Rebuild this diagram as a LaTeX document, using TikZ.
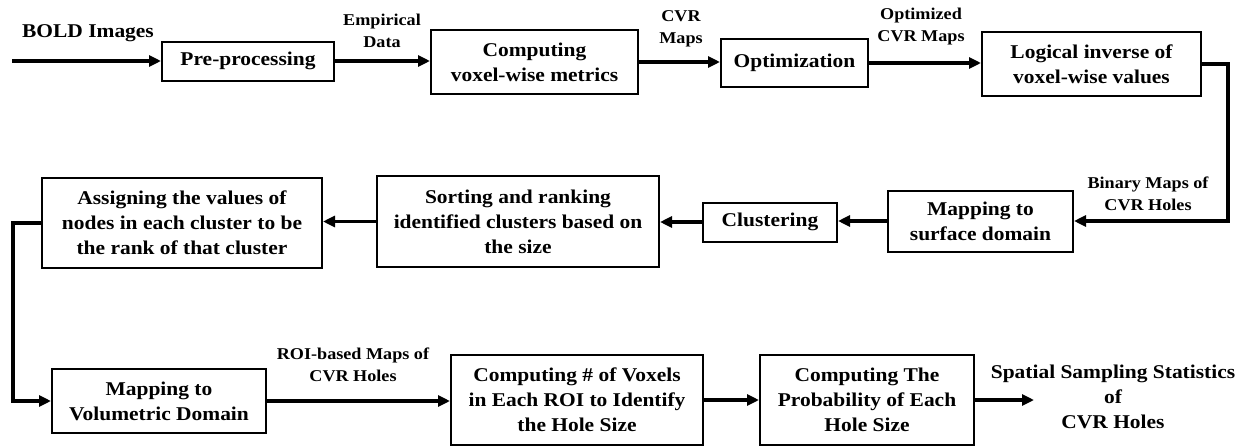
\documentclass[tikz,border=0pt]{standalone}
\usepackage{fontspec}
\setmainfont{Liberation Serif}[FakeStretch=1.1]
\usetikzlibrary{arrows.meta,positioning}
\begin{document}
\begin{tikzpicture}[x=1pt,y=-1pt,
  box/.style={draw,line width=2pt,align=center,inner sep=0pt,font=\fontsize{19.5}{25}\selectfont\bfseries},
  lbl/.style={align=center,inner sep=0pt,font=\fontsize{16.5}{22}\selectfont\bfseries},
  big/.style={align=center,inner sep=0pt,font=\fontsize{19.5}{25}\selectfont\bfseries},
  flow/.style={line width=3.2pt,-{Triangle[length=12pt,width=11pt]}},
  link/.style={line width=3.2pt}]
\useasboundingbox (0,0) rectangle (1247,447);
\node[box,minimum width=172pt,minimum height=39pt] (pre) at (248,61) {Pre-processing};
\node[box,minimum width=207pt,minimum height=64pt] (comp) at (534.5,62) {Computing\\voxel-wise metrics};
\node[box,minimum width=147pt,minimum height=48pt] (opt) at (794.5,63) {Optimization};
\node[box,minimum width=219pt,minimum height=64pt] (logic) at (1091.5,64) {Logical inverse of\\voxel-wise values};
\node[box,minimum width=185pt,minimum height=61pt] (maps) at (980.5,221) {Mapping to\\surface domain};
\node[box,minimum width=134pt,minimum height=39pt] (clust) at (770,222) {Clustering};
\node[box,minimum width=282pt,minimum height=91pt] (sort) at (518,221.5) {Sorting and ranking\\identified clusters based on\\the size};
\node[box,minimum width=280pt,minimum height=90pt] (assign) at (182,223) {Assigning the values of\\nodes in each cluster to be\\the rank of that cluster};
\node[box,minimum width=214pt,minimum height=64pt] (mapv) at (159,401) {Mapping to\\Volumetric Domain};
\node[box,minimum width=252pt,minimum height=90pt] (compn) at (577,400) {Computing \# of Voxels\\in Each ROI to Identify\\the Hole Size};
\node[box,minimum width=214pt,minimum height=90pt] (prob) at (867,400) {Computing The\\Probability of Each\\Hole Size};
\node[big] (out) at (1113,397) {Spatial Sampling Statistics\\of\\CVR Holes};
\node[big] (bold) at (88,33) {BOLD Images};
\node[lbl] (l1) at (382,31) {Empirical\\Data};
\node[lbl] (l2) at (681,29) {CVR\\Maps};
\node[lbl] (l3) at (921,27) {Optimized\\CVR Maps};
\node[lbl] (l4) at (1148,194) {Binary Maps of\\CVR Holes};
\node[lbl] (l5) at (353,365) {ROI-based Maps of\\CVR Holes};
\coordinate (in) at (12,61);
\coordinate (outp) at (1034,400);
\draw[flow] (in) -- (pre.west);
\draw[flow] (pre.east) -- (pre.east -| comp.west);
\draw[flow] (comp.east) -- (comp.east -| opt.west);
\draw[flow] (opt.east) -- (opt.east -| logic.west);
\draw[flow] (logic.east) -- ++(26,0) |- (maps.east);
\draw[flow] (maps.west) -- (maps.west -| clust.east);
\draw[flow] (clust.west) -- (clust.west -| sort.east);
\draw[flow] (sort.west) -- (sort.west -| assign.east);
\draw[flow] (assign.west) -- ++(-28,0) |- (mapv.west);
\draw[flow] (mapv.east) -- (mapv.east -| compn.west);
\draw[flow] (compn.east) -- (compn.east -| prob.west);
\draw[flow] (prob.east) -- (outp);
\end{tikzpicture}
\end{document}
